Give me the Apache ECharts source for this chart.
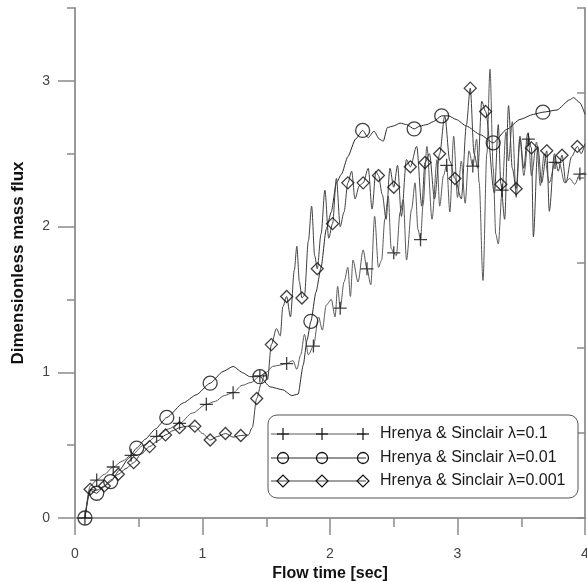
<!DOCTYPE html>
<html>
<head>
<meta charset="utf-8">
<script src="https://cdn.jsdelivr.net/npm/echarts@6/dist/echarts.min.js"></script>
<style>html,body{margin:0;padding:0;background:#fff}#c{width:587px;height:582px}</style>
</head>
<body>
<div id="c"></div>
<script>
// ---- data (x = flow time [sec], y = dimensionless mass flux) ----
const xTickLabels = [0, 1, 2, 3, 4];
const yTickLabels = [0, 1, 2, 3];
const seriesNames = ['Hrenya & Sinclair \u03bb=0.1', 'Hrenya & Sinclair \u03bb=0.01', 'Hrenya & Sinclair \u03bb=0.001'];

// λ=0.1 (crosses)
const crossPath = [[0.078,0],[0.12,0.22],[0.23,0.30],[0.37,0.39],[0.54,0.50],[0.73,0.61],[0.92,0.72],[1.10,0.80],[1.17,0.84],[1.31,0.91],[1.38,0.93],[1.50,1.00],[1.55,1.04],[1.61,1.05],[1.71,1.08],[1.74,1.02],[1.77,1.12],[1.80,1.26],[1.83,1.12],[1.91,1.38],[1.94,1.29],[1.97,1.46],[2.01,1.50],[2.04,1.38],[2.06,1.59],[2.11,1.62],[2.14,1.72],[2.16,1.52],[2.18,1.77],[2.22,1.62],[2.26,1.84],[2.32,1.60],[2.35,2.07],[2.38,1.72],[2.405,1.77],[2.43,2.05],[2.457,2.21],[2.48,1.85],[2.52,1.80],[2.55,2.10],[2.575,2.185],[2.60,1.77],[2.64,2.12],[2.667,2.30],[2.69,1.98],[2.73,2.15],[2.76,2.55],[2.80,2.05],[2.84,2.46],[2.86,2.14],[2.89,2.35],[2.94,2.10],[2.97,2.62],[3.00,2.20],[3.03,2.45],[3.06,2.16],[3.09,2.52],[3.15,2.60],[3.17,2.30],[3.20,1.63],[3.23,2.50],[3.255,3.08],[3.28,2.40],[3.30,1.95],[3.32,1.88],[3.38,2.65],[3.40,2.45],[3.43,2.72],[3.46,2.20],[3.49,2.60],[3.52,2.35],[3.58,2.35],[3.62,2.58],[3.65,2.28],[3.68,2.50],[3.72,2.30],[3.80,2.43],[3.84,2.30],[3.88,2.33],[3.92,2.29],[4.0,2.37]];
const crossMarks = [[0.078,0],[0.17,0.26],[0.30,0.35],[0.44,0.43],[0.64,0.56],[0.82,0.65],[1.03,0.78],[1.24,0.86],[1.45,0.975],[1.66,1.06],[1.87,1.18],[2.08,1.44],[2.29,1.71],[2.50,1.82],[2.71,1.91],[2.915,2.42],[3.12,2.415],[3.35,2.25],[3.556,2.60],[3.765,2.44],[3.96,2.36]];

// λ=0.01 (circles)
const circlePath = [[0.118,0.19],[0.22,0.21],[0.35,0.33],[0.42,0.41],[0.55,0.54],[0.63,0.61],[0.85,0.79],[0.95,0.845],[1.16,1.005],[1.24,1.04],[1.32,0.995],[1.37,0.97],[1.53,0.90],[1.63,0.88],[1.70,0.84],[1.75,0.85],[1.79,1.05],[1.82,1.22],[1.89,1.55],[1.93,1.72],[1.97,1.98],[2.01,2.10],[2.05,2.30],[2.09,2.36],[2.14,2.48],[2.20,2.60],[2.30,2.61],[2.345,2.655],[2.387,2.60],[2.418,2.586],[2.45,2.68],[2.497,2.69],[2.55,2.71],[2.60,2.70],[2.706,2.69],[2.76,2.70],[2.81,2.72],[2.93,2.76],[2.99,2.735],[3.07,2.69],[3.18,2.63],[3.386,2.667],[3.49,2.735],[3.595,2.77],[3.78,2.80],[3.88,2.87],[3.91,2.885],[3.96,2.85],[4.0,2.77]];
const circleMarks = [[0.078,0],[0.17,0.17],[0.28,0.25],[0.484,0.48],[0.72,0.69],[1.06,0.925],[1.45,0.97],[1.85,1.35],[2.256,2.66],[2.66,2.67],[2.876,2.76],[3.28,2.575],[3.67,2.785]];

// λ=0.001 (diamonds)
const diamondPath = [[0.078,0],[0.17,0.19],[0.28,0.26],[0.40,0.34],[0.52,0.44],[0.65,0.53],[0.77,0.60],[0.88,0.63],[1.00,0.58],[1.12,0.56],[1.24,0.555],[1.36,0.57],[1.39,0.62],[1.46,0.92],[1.49,1.0],[1.51,0.95],[1.58,1.30],[1.61,1.25],[1.63,1.45],[1.69,1.38],[1.72,1.70],[1.74,1.865],[1.76,1.62],[1.80,1.53],[1.83,1.90],[1.856,2.14],[1.88,1.80],[1.93,1.95],[1.96,2.25],[1.99,1.92],[2.05,2.33],[2.08,2.0],[2.11,2.10],[2.17,2.38],[2.196,2.19],[2.23,2.28],[2.30,2.40],[2.33,2.12],[2.36,2.38],[2.41,2.22],[2.44,2.05],[2.47,2.40],[2.53,2.42],[2.56,2.07],[2.60,2.46],[2.68,2.55],[2.72,2.14],[2.78,2.50],[2.82,2.19],[2.90,2.76],[2.94,2.45],[3.03,2.19],[3.07,2.70],[3.13,2.50],[3.16,2.40],[3.19,2.86],[3.29,2.23],[3.32,2.70],[3.37,2.05],[3.40,2.83],[3.43,2.40],[3.49,2.62],[3.52,2.40],[3.55,2.64],[3.595,1.93],[3.63,2.55],[3.66,2.30],[3.72,2.105],[3.76,2.50],[3.79,2.38],[3.85,2.30],[3.895,2.48],[3.97,2.50],[4.0,2.57]];
const diamondMarks = [[0.118,0.197],[0.23,0.22],[0.34,0.30],[0.46,0.38],[0.585,0.49],[0.71,0.57],[0.82,0.62],[0.94,0.63],[1.06,0.535],[1.18,0.58],[1.30,0.566],[1.425,0.82],[1.54,1.19],[1.66,1.52],[1.78,1.51],[1.90,1.71],[2.02,2.02],[2.14,2.30],[2.26,2.30],[2.38,2.35],[2.50,2.27],[2.63,2.41],[2.745,2.44],[2.86,2.50],[2.98,2.33],[3.10,2.95],[3.22,2.79],[3.34,2.29],[3.46,2.26],[3.58,2.54],[3.70,2.52],[3.82,2.49],[3.94,2.55]];

// ---- build ----
function merge(path, marks) {
  const all = path.concat(marks).slice().sort((a, b) => a[0] - b[0]);
  const out = [];
  all.forEach(p => { if (!out.length || out[out.length-1][0] !== p[0] || out[out.length-1][1] !== p[1]) out.push(p); });
  return out;
}
const FONT = "'Liberation Sans', Arial, sans-serif";
const crossSym = 'path://M0,5.4H12V6.6H0Z M5.4,0H6.6V12H5.4Z';
const lineColors = ['#5a5a5a', '#2a2a2a', '#404040'];
const smoothness = [0.3, 0.2, 0.3];
const markDefs = [
  { data: crossMarks, symbol: crossSym, size: 13, style: { color: '#111', borderWidth: 0 } },
  { data: circleMarks, symbol: 'circle', size: 14, style: { color: 'transparent', borderColor: '#111', borderWidth: 1.3 } },
  { data: diamondMarks, symbol: 'diamond', size: 12, style: { color: 'transparent', borderColor: '#111', borderWidth: 1.3 } }
];
const paths = [crossPath, circlePath, diamondPath];

const series = [];
paths.forEach((p, i) => {
  series.push({
    name: seriesNames[i], type: 'line', xAxisIndex: 0, yAxisIndex: 0,
    data: merge(p, markDefs[i].data), showSymbol: false, symbol: 'none',
    smooth: smoothness[i], smoothMonotone: 'x',
    lineStyle: { color: lineColors[i], width: 1 }, silent: true, z: 2 + i
  });
});
markDefs.forEach((m, i) => {
  series.push({
    name: seriesNames[i] + ' markers', type: 'scatter', xAxisIndex: 0, yAxisIndex: 0,
    data: m.data, symbol: m.symbol, symbolSize: m.size, itemStyle: m.style, silent: true, z: 6
  });
});

// legend drawn as graphic (three markers per row, like the original)
const L = { x: 268, y: 415, w: 310, h: 83, rows: [434, 458, 481], mx: [283, 322, 363], lx1: 271, lx2: 366, tx: 380 };
const legendEls = [{
  type: 'rect', shape: { x: L.x, y: L.y, width: L.w, height: L.h, r: 9 },
  style: { fill: '#fff', stroke: '#555', lineWidth: 1 }, z: 100
}];
L.rows.forEach((yy, i) => {
  legendEls.push({ type: 'line', shape: { x1: L.lx1, y1: yy, x2: L.lx2, y2: yy }, style: { stroke: lineColors[i], lineWidth: 1 }, z: 101 });
  L.mx.forEach(xx => {
    if (i === 0) {
      legendEls.push({ type: 'line', shape: { x1: xx - 6, y1: yy, x2: xx + 6, y2: yy }, style: { stroke: '#111', lineWidth: 1.2 }, z: 102 });
      legendEls.push({ type: 'line', shape: { x1: xx, y1: yy - 6, x2: xx, y2: yy + 6 }, style: { stroke: '#111', lineWidth: 1.2 }, z: 102 });
    } else if (i === 1) {
      legendEls.push({ type: 'circle', shape: { cx: xx, cy: yy, r: 5.5 }, style: { fill: 'none', stroke: '#111', lineWidth: 1.3 }, z: 102 });
    } else {
      legendEls.push({ type: 'polygon', shape: { points: [[xx - 6, yy], [xx, yy - 6], [xx + 6, yy], [xx, yy + 6]] }, style: { fill: 'none', stroke: '#111', lineWidth: 1.2 }, z: 102 });
    }
  });
  legendEls.push({ type: 'text', x: L.tx, y: yy, style: { text: seriesNames[i], font: '16px ' + FONT, fill: '#1a1a1a', verticalAlign: 'middle', align: 'left' }, z: 102 });
});

const tickGray = '#8a8a8a';
const intFmt = v => (Math.abs(v - Math.round(v)) < 1e-9 ? String(Math.round(v)) : '');

const option = {
  animation: false,
  backgroundColor: '#fff',
  textStyle: { fontFamily: FONT },
  grid: { left: 75, right: 2, top: 8, bottom: 64, containLabel: false, outerBoundsMode: 'none' },
  xAxis: [
    {
      type: 'value', position: 'bottom', min: xTickLabels[0], max: xTickLabels[xTickLabels.length - 1], interval: 1,
      axisLine: { show: true, lineStyle: { color: '#111', width: 1.5 } },
      axisTick: { show: true, length: 17, lineStyle: { color: tickGray, width: 1.5 } },
      minorTick: { show: true, splitNumber: 2, length: 9, lineStyle: { color: tickGray, width: 1.5 } },
      axisLabel: { formatter: intFmt, margin: 29, fontSize: 14, color: '#444', fontFamily: FONT },
      splitLine: { show: false }, minorSplitLine: { show: false },
      name: 'Flow time [sec]', nameLocation: 'middle', nameGap: 47,
      nameTextStyle: { fontSize: 16, fontWeight: 'bold', color: '#111', fontFamily: FONT }
    },
    {
      type: 'value', position: 'top', min: 0, max: 4, interval: 1,
      axisLine: { show: true, lineStyle: { color: '#999', width: 2 } },
      axisTick: { show: true, inside: true, length: 17, lineStyle: { color: tickGray, width: 1.5 } },
      minorTick: { show: true, splitNumber: 2, length: 8, lineStyle: { color: tickGray, width: 1.5 } },
      axisLabel: { show: false }, splitLine: { show: false }
    }
  ],
  yAxis: [
    {
      type: 'value', position: 'left', min: 0, max: 3.5, interval: 0.5,
      axisLine: { show: true, lineStyle: { color: '#999', width: 2 } },
      axisTick: { show: true, length: 8, lineStyle: { color: tickGray, width: 1.5 } },
      axisLabel: { show: false }, splitLine: { show: false },
      name: 'Dimensionless mass flux', nameLocation: 'middle', nameGap: 48,
      nameTextStyle: { fontSize: 17, fontWeight: 'bold', color: '#111', fontFamily: FONT }
    },
    {
      type: 'value', position: 'left', min: 0, max: 3.5,
      axisLine: { show: false },
      axisTick: { show: true, length: 17, customValues: yTickLabels, lineStyle: { color: tickGray, width: 1.5 } },
      axisLabel: { customValues: yTickLabels, margin: 25, fontSize: 14, color: '#444', fontFamily: FONT },
      splitLine: { show: false }
    },
    {
      type: 'value', position: 'right', min: 0, max: 6, interval: 1,
      axisLine: { show: true, lineStyle: { color: '#999', width: 2 } },
      axisTick: { show: true, inside: true, length: 8, lineStyle: { color: tickGray, width: 1.5 } },
      axisLabel: { show: false }, splitLine: { show: false }
    }
  ],
  graphic: legendEls,
  series: series
};
const chart = echarts.init(document.getElementById('c'), null, { renderer: 'canvas' });
chart.setOption(option);
</script>
</body>
</html>
